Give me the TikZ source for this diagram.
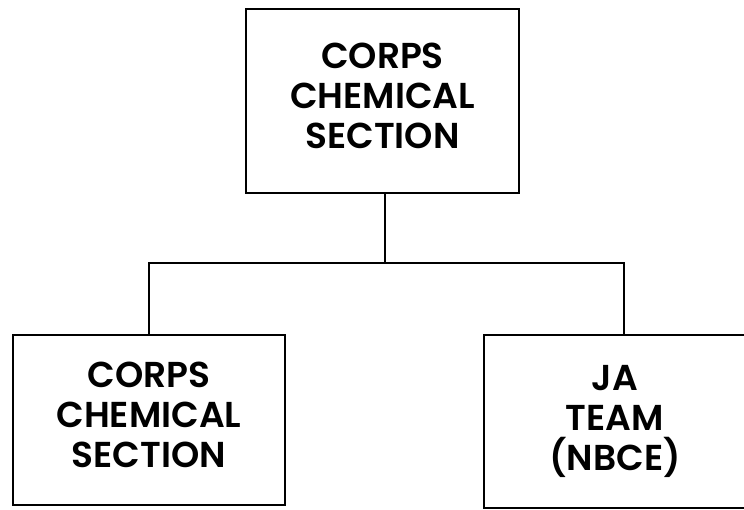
\documentclass[tikz,border=0pt]{standalone}
\usepackage{fontspec}
\setmainfont{Poppins}[BoldFont={Poppins SemiBold}]
\usepackage{tikz}
\usetikzlibrary{positioning}
\tikzset{unit/.style={draw, line width=1.5pt, align=center, inner sep=0pt,
    font=\fontsize{36}{40}\selectfont\bfseries},
    link/.style={line width=1.5pt}}

\begin{document}
\begin{tikzpicture}[x=1pt, y=-1pt]
    \useasboundingbox (0,0) rectangle (744,510);
    % Boxes of the chart
    \node[unit, minimum width=273pt, minimum height=184pt, text depth=10pt] (corps) at (382.5,101) {CORPS\\CHEMICAL\\SECTION};
    \node[unit, minimum width=272pt, minimum height=170pt, text depth=10pt] (section) at (149,420) {CORPS\\CHEMICAL\\SECTION};
    \node[unit, minimum width=262pt, minimum height=173pt] (ja) at (615,421.5) {JA\\TEAM\\(NBCE)};
    %
    \coordinate (split) at (385,263);
    \draw[link] (corps.south -| split) -- (split) -| (section.north);
    \draw[link] (split) -| ([xshift=9pt]ja.north);
\end{tikzpicture}
\end{document}
